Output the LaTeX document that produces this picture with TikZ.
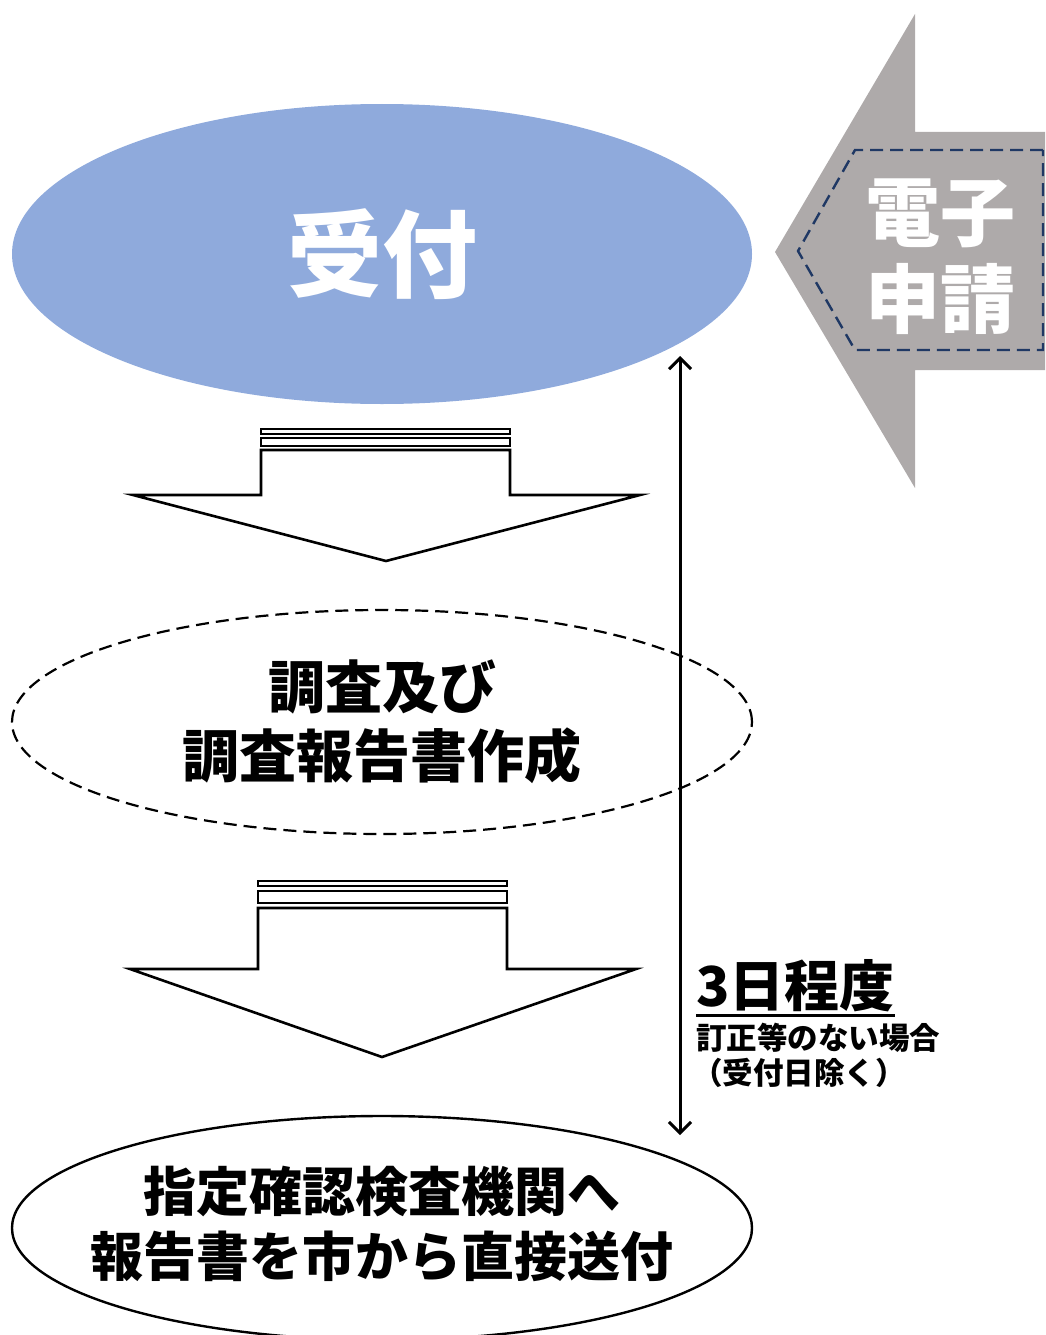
\documentclass[tikz,border=0pt]{standalone}
\usepackage{fontspec}
\newfontfamily\jpfont{Noto Sans CJK JP Black}
\usetikzlibrary{arrows.meta,shapes.geometric,positioning}
\definecolor{uketsuke}{HTML}{8FAADC}
\definecolor{appgrey}{HTML}{AEAAAA}
\definecolor{navy}{HTML}{1F3864}

\begin{document}
\begin{tikzpicture}[
    x=1pt, y=-1pt,
    font=\jpfont,
    phase/.style={
		ellipse,
		inner sep=0pt,
		minimum width=740pt,
		minimum height=300pt,
		align=center
	},
	flow/.style={
		draw=black,
		line width=2.6pt,
		fill=white,
		line join=miter
	},
	big/.style={
		font=\jpfont\fontsize{57}{69}\selectfont
	},
	note/.style={
		inner sep=0pt,
		anchor=west,
		font=\jpfont\fontsize{30.5}{34}\selectfont
	}
  ]
\useasboundingbox (0,0) rectangle (1045,1335);

% // electronic application arrow
\fill [appgrey] (775,252) -- (915,14) -- (915,132) -- (1045,132)
  -- (1045,370) -- (915,370) -- (915,488) -- cycle;
\draw [navy, line width=2.4pt, dash pattern=on 13pt off 7pt]
  (1043,150) -- (855,150) -- (798,251) -- (855,350) -- (1043,350) -- cycle;
\node [align=center, text=white, font=\jpfont\fontsize{75}{87}\selectfont] (denshi) at (940,257) {電子\\申請};

% // phases
\node [phase, fill=uketsuke, text=white, font=\jpfont\fontsize{95}{100}\selectfont] (uketsuke) at (382,254) {受付};
\node [phase, draw=black, line width=2.2pt, dash pattern=on 13pt off 7pt, minimum height=224pt, big] (chosa) at (382,722) {調査及び\\調査報告書作成};
\node [phase, draw=black, line width=2.4pt, minimum height=224pt] (sofu) at (382,1228) {};
\node [align=center, font=\jpfont\fontsize{53}{65}\selectfont] (sofutext) at ([yshift=4pt]sofu.center) {指定確認検査機関へ\\報告書を市から直接送付};

% // flow arrow 1
\draw [flow] (261,429) rectangle (510,434);
\draw [flow] (261,438) rectangle (510,446);
\draw [flow] (261,450) -- (510,450) -- (510,495) -- (640,495) -- (386,561)
  -- (133,495) -- (261,495) -- cycle;

% // flow arrow 2
\draw [flow] (258,881) rectangle (507,886);
\draw [flow] (258,891) rectangle (507,903);
\draw [flow] (258,908) -- (507,908) -- (507,969) -- (636,969) -- (382,1057)
  -- (130,969) -- (258,969) -- cycle;

% // period
\coordinate (top) at (680,356);
\coordinate (bottom) at (680,1135);
\draw [{Straight Barb[length=11pt,width=22pt]}-{Straight Barb[length=11pt,width=22pt]}, line width=3pt] (top) -- (bottom);

\node [inner sep=0pt, anchor=west, font=\jpfont\fontsize{55}{60}\selectfont] (days) at (696,986) {3日程度};
\draw [line width=3pt] ([yshift=-3pt]days.south west) -- ([yshift=-3pt]days.south east);
\node [note, below=10pt of days.south west, anchor=north west] (cond) {訂正等のない場合};
\node [note, below=6pt of cond.south west, anchor=north west, xshift=-4pt] (excl) {（受付日除く）};

\end{tikzpicture}
\end{document}
